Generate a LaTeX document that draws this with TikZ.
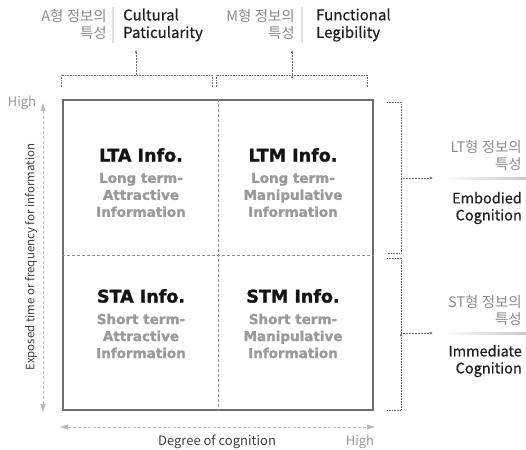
\documentclass[tikz,border=0pt]{standalone}
\usepackage{fontspec}
\setmainfont{Noto Sans CJK KR}
\newfontfamily\heavyfont{DejaVu Sans Bold}[FakeBold=1.5]
\newfontfamily\featfont{Noto Sans CJK KR}[FakeBold=0.5]
\usetikzlibrary{arrows.meta}

\definecolor{frame}{HTML}{6E6E6E}
\definecolor{subgray}{HTML}{9A9A9A}
\definecolor{korgray}{HTML}{8C8C8C}

\begin{document}
\begin{tikzpicture}[x=1pt, y=-1pt,
    quad/.style = {font=\heavyfont\fontsize{17.5}{20}\selectfont, text=black!92},
    sub/.style = {align=center, font=\heavyfont\fontsize{13.5}{17}\selectfont, text=subgray},
    kor/.style = {align=right, inner sep=0, font=\fontsize{14.5}{17}\selectfont, text=korgray},
    feat/.style = {inner sep=0, font=\featfont\fontsize{15}{17.5}\selectfont, text=black!88},
    lab/.style = {inner sep=0, font=\fontsize{13}{15}\selectfont, text=black!75},
    high/.style = {inner sep=0, font=\fontsize{13}{15}\selectfont, text=black!40},
    brace/.style = {draw=black!55, densely dotted, line width=0.6pt},
    axis/.style = {draw=black!25, densely dashed, line width=0.5pt,
        {Triangle[width=5pt, length=8pt, fill=black!28, color=black!28]}-{Triangle[width=5pt, length=8pt, fill=black!28, color=black!28]}},
    sep/.style = {draw=black!12, line width=1.5pt}]
    \useasboundingbox (0,0) rectangle (526,449);

    % the four quadrants
    \node[draw=frame, line width=1.8pt, minimum width=310pt, minimum height=310pt] (grid) at (218,255) {};
    \draw[black!45, densely dashed, line width=0.4pt] (grid.north) -- (grid.south);
    \draw[black!45, densely dashed, line width=0.4pt] (grid.west) -- (grid.east);

    \node[quad] (lta) at (141,155) {LTA Info.};
    \node[sub] (ltasub) at (141,195) {Long term-\\Attractive\\Information};
    \node[quad] (ltm) at (293,155) {LTM Info.};
    \node[sub] (ltmsub) at (293,195) {Long term-\\Manipulative\\Information};
    \node[quad] (sta) at (141,296) {STA Info.};
    \node[sub] (stasub) at (141,336) {Short term-\\Attractive\\Information};
    \node[quad] (stm) at (293,296) {STM Info.};
    \node[sub] (stmsub) at (293,336) {Short term-\\Manipulative\\Information};

    % axes
    \coordinate (ytop) at (43,103);
    \coordinate (ybot) at (43,412);
    \coordinate (xleft) at (60,427);
    \coordinate (xright) at (375,427);
    \draw[axis] (ybot) -- (ytop);
    \draw[axis] (xleft) -- (xright);
    \node[high] (yhigh) at (22,103) {High};
    \node[lab, rotate=90, font=\fontsize{11.5}{14}\selectfont] (ylab) at (31,257) {Exposed time or frequency for information};
    \node[lab] (xlab) at (217,442) {Degree of cognition};
    \node[high] (xhigh) at (360,442) {High};

    % top brackets
    \draw[brace] (61,87) -- (61,75) -- (212,75) -- (212,87);
    \draw[brace] (216,87) -- (216,75) -- (367,75) -- (367,87);
    \coordinate (abr) at (136,75);
    \coordinate (mbr) at (292,75);
    \coordinate (aend) at (136,50);
    \coordinate (mend) at (292,50);
    \path[-{Latex[length=3pt, width=2.5pt]}, brace, solid, line width=0.5pt] (abr) edge[densely dotted] (aend) (mbr) edge[densely dotted] (mend);

    \node[kor, anchor=east] (akor) at (107,25) {A형 정보의\\특성};
    \draw[sep] (113,7) -- (113,43);
    \node[feat, anchor=west, align=left] (cult) at (123,25) {Cultural\\Paticularity};
    \node[kor, anchor=east] (mkor) at (295,25) {M형 정보의\\특성};
    \draw[sep] (302,7) -- (302,43);
    \node[feat, anchor=west, align=left] (func) at (316,25) {Functional\\Legibility};

    % right brackets
    \draw[brace] (387,102) -- (401,102) -- (401,253) -- (387,253);
    \draw[brace] (387,258) -- (401,258) -- (401,410) -- (387,410);
    \coordinate (ltbr) at (401,178);
    \coordinate (stbr) at (401,333);
    \coordinate (ltend) at (433,178);
    \coordinate (stend) at (433,333);
    \path[-{Latex[length=3pt, width=2.5pt]}, brace, solid, line width=0.5pt] (ltbr) edge[densely dotted] (ltend) (stbr) edge[densely dotted] (stend);

    \node[kor, anchor=east] (ltkor) at (522,156) {LT형 정보의\\특성};
    \shade[left color=white, right color=black!22] (443,177) rectangle (526,179.5);
    \node[feat, anchor=east, align=right, font=\featfont\fontsize{14.5}{17}\selectfont] (embod) at (522,208) {Embodied\\Cognition};
    \node[kor, anchor=east] (stkor) at (522,311) {ST형 정보의\\특성};
    \shade[left color=white, right color=black!22] (443,332) rectangle (526,334.5);
    \node[feat, anchor=east, align=right, font=\featfont\fontsize{14.5}{17}\selectfont] (immed) at (522,361) {Immediate\\Cognition};
\end{tikzpicture}
\end{document}
